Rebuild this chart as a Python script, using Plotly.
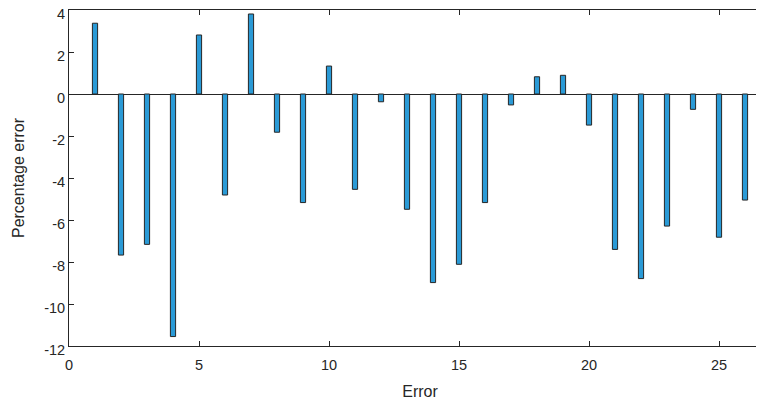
import plotly.graph_objects as go

x_index = list(range(1, 27))
pct_error = [3.37, -7.67, -7.16, -11.55, 2.81, -4.81, 3.81, -1.82, -5.17, 1.33,
             -4.54, -0.37, -5.49, -8.98, -8.11, -5.17, -0.52, 0.82, 0.89, -1.48,
             -7.40, -8.79, -6.29, -0.73, -6.82, -5.05]
x_ticks = [0, 5, 10, 15, 20, 25]
y_ticks = [4, 2, 0, -2, -4, -6, -8, -10, -12]
y_tick_labels = [str(v) for v in y_ticks]

fig = go.Figure(go.Bar(
    x=x_index, y=pct_error, width=0.2,
    marker=dict(color="#2a9ad6", line=dict(color="#262626", width=1)),
))

font = "Liberation Sans, Arial, sans-serif"
fig.update_layout(
    width=764, height=405,
    margin=dict(l=61, r=1, t=2, b=67),
    plot_bgcolor="white", paper_bgcolor="white",
    showlegend=False,
    font=dict(family=font, size=14.5, color="#262626"),
)
fig.update_xaxes(
    range=[0, 27], tickvals=x_ticks, ticks="inside", ticklen=5,
    tickcolor="#262626", showline=True, linecolor="#262626", linewidth=1,
    mirror="ticks", showgrid=False, zeroline=False, automargin=False,
    ticklabeloverflow="allow", ticklabelstandoff=6,
    title=dict(text="Error", standoff=13, font=dict(size=16)),
)
fig.update_yaxes(
    range=[-12, 4], tickvals=y_ticks, ticktext=y_tick_labels,
    ticks="inside", ticklen=5,
    tickcolor="#262626", showline=True, linecolor="#262626", linewidth=1,
    mirror="ticks",
    showgrid=False, zeroline=True, zerolinecolor="#262626", zerolinewidth=1,
    automargin=False, ticklabeloverflow="allow",
    ticklabelshift=4, ticklabelstandoff=0,
    title=dict(text="Percentage error", standoff=15, font=dict(size=16)),
)
fig.write_html("out.html")
